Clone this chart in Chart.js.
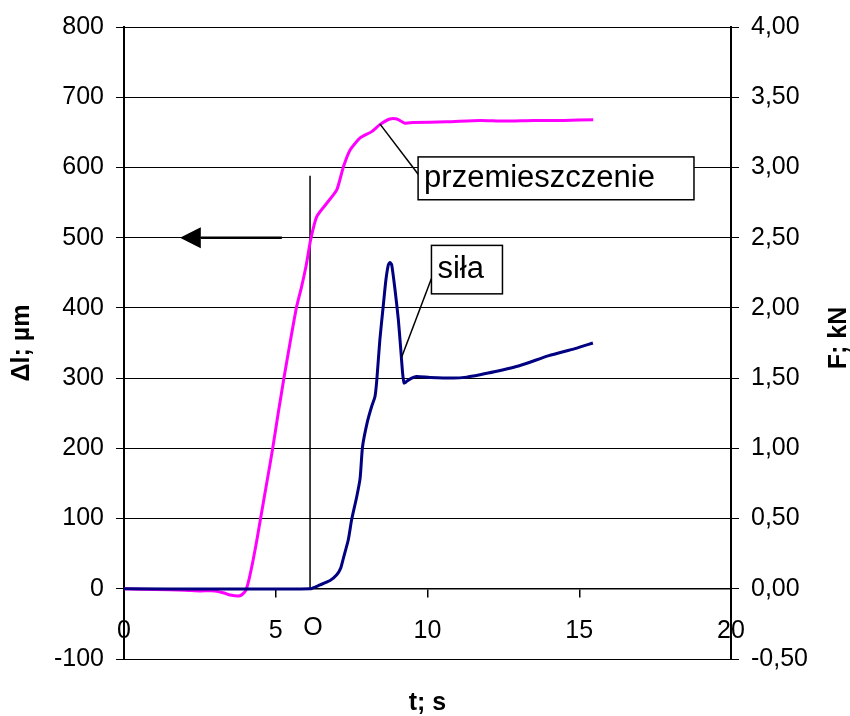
<!DOCTYPE html>
<html>
<head>
<meta charset="utf-8">
<script src="https://cdn.jsdelivr.net/npm/chart.js@4/dist/chart.umd.min.js"></script>
<style>
  html, body { margin: 0; padding: 0; background: #fff; }
  #wrap { width: 850px; height: 716px; }
</style>
</head>
<body>
<div id="wrap"><canvas id="wykres"></canvas></div>
<script>
// przemieszczenie (Δl, µm) w funkcji czasu
const tPrzem = [0, 1, 2, 2.5, 3.0, 3.3, 3.5, 3.82, 3.99, 4.10, 4.25, 4.38, 4.5, 4.7, 4.9, 5.08, 5.27, 5.47, 5.68, 5.85, 6.0, 6.15, 6.35, 6.68, 7.01, 7.23, 7.45, 7.78, 8.16, 8.43, 8.76, 8.99, 9.26, 9.52, 10.63, 11.73, 12.5, 13.5, 14.5, 15.46];
const przem = [0, -1, -2, -3, -3, -6, -9, -10, -4, 10, 40, 70, 100, 150, 200, 250, 300, 350, 400, 430, 460, 497, 530, 549, 568, 601, 625, 642, 651, 661, 669, 669, 663, 664, 665, 667, 666, 667, 667, 668];

// siła (F, kN) w funkcji czasu
const tSila = [0, 6.13, 6.46, 6.79, 7.01, 7.14, 7.23, 7.39, 7.50, 7.67, 7.78, 7.86, 8.02, 8.16, 8.27, 8.33, 8.43, 8.54, 8.63, 8.71, 8.76, 8.82, 8.93, 9.04, 9.12, 9.18, 9.23, 9.31, 9.48, 9.64, 10.08, 10.85, 11.29, 11.73, 12.2, 13.05, 14.0, 14.86, 15.45];
const sila = [0, 0, 0.028, 0.059, 0.10, 0.147, 0.219, 0.349, 0.491, 0.657, 0.788, 1.013, 1.19, 1.298, 1.369, 1.488, 1.773, 2.010, 2.200, 2.307, 2.323, 2.307, 2.129, 1.915, 1.702, 1.536, 1.465, 1.476, 1.500, 1.512, 1.505, 1.500, 1.507, 1.524, 1.545, 1.59, 1.66, 1.71, 1.75];

// osie
const osX = [0, 20, 5];
const osY = [-100, 800, 100];
const osY2 = [-0.5, 4, 0.5];

// adnotacje (t w s, Δl w µm)
const liniaO = [6.13, 0, 588];          // t, od, do
const etykietaO = [6.23, 'O'];
const strzalka = [5.2, 2.53, 1.845, 500]; // koniec, podstawa grota, grot, poziom
const ramkaPrzem = ['przemieszczenie', 9.69, 18.78, 615, 554, 8.43, 662, 9.70, 590];
const ramkaSila = ['siła', 10.13, 12.47, 489, 420, 9.15, 330, 10.13, 442];

const FONT = '"Liberation Sans", Arial, sans-serif';
Chart.defaults.font.family = FONT;
Chart.defaults.color = '#000';

const adnotacje = {
  id: 'adnotacje',
  beforeDatasetsDraw(chart) {
    const { ctx, scales: { x, y } } = chart;
    ctx.save();
    ctx.strokeStyle = '#000';
    ctx.lineWidth = 1.5;
    ctx.beginPath();
    ctx.moveTo(x.getPixelForValue(liniaO[0]), y.getPixelForValue(liniaO[1]));
    ctx.lineTo(x.getPixelForValue(liniaO[0]), y.getPixelForValue(liniaO[2]));
    ctx.stroke();

    // strzałka w lewo
    const ys = y.getPixelForValue(strzalka[3]);
    const xb = x.getPixelForValue(strzalka[1]);
    ctx.lineWidth = 2.5;
    ctx.beginPath();
    ctx.moveTo(x.getPixelForValue(strzalka[0]), ys);
    ctx.lineTo(xb, ys);
    ctx.stroke();
    ctx.fillStyle = '#000';
    ctx.beginPath();
    ctx.moveTo(x.getPixelForValue(strzalka[2]), ys);
    ctx.lineTo(xb, ys - 10.5);
    ctx.lineTo(xb, ys + 10.5);
    ctx.closePath();
    ctx.fill();
    ctx.restore();
  },
  afterDraw(chart) {
    const { ctx, scales: { x, y } } = chart;
    ctx.save();

    const ramka = (r) => {
      const [tekst, t1, t2, v1, v2, lx1, ly1, lx2, ly2] = r;
      ctx.strokeStyle = '#000';
      ctx.lineWidth = 1.5;
      ctx.beginPath();
      ctx.moveTo(x.getPixelForValue(lx1), y.getPixelForValue(ly1));
      ctx.lineTo(x.getPixelForValue(lx2), y.getPixelForValue(ly2));
      ctx.stroke();
      const xa = x.getPixelForValue(t1), xb = x.getPixelForValue(t2);
      const ya = y.getPixelForValue(v1), yb = y.getPixelForValue(v2);
      ctx.fillStyle = '#fff';
      ctx.fillRect(xa, ya, xb - xa, yb - ya);
      ctx.strokeRect(xa, ya, xb - xa, yb - ya);
      ctx.fillStyle = '#000';
      ctx.font = '31px ' + FONT;
      ctx.textAlign = 'left';
      ctx.textBaseline = 'middle';
      ctx.fillText(tekst, xa + 6, (ya + yb) / 2);
    };
    ramka(ramkaPrzem);
    ramka(ramkaSila);

    // etykieta O
    ctx.font = '25px ' + FONT;
    ctx.textAlign = 'center';
    ctx.textBaseline = 'middle';
    ctx.fillStyle = '#000';
    ctx.fillText(etykietaO[1], x.getPixelForValue(etykietaO[0]), 628);

    // tytuły osi
    ctx.font = 'bold 25px ' + FONT;
    ctx.fillText('t; s', (chart.chartArea.left + chart.chartArea.right) / 2, 703);
    ctx.translate(839, 338);
    ctx.rotate(-Math.PI / 2);
    ctx.fillText('F; kN', 0, 0);
    ctx.restore();
  }
};

new Chart(document.getElementById('wykres'), {
  type: 'line',
  data: {
    datasets: [
      {
        label: 'siła',
        data: tSila.map((t, i) => ({ x: t, y: sila[i] })),
        yAxisID: 'y2',
        borderColor: '#000080',
        borderWidth: 3,
        pointRadius: 0,
        tension: 0.2
      },
      {
        label: 'przemieszczenie',
        data: tPrzem.map((t, i) => ({ x: t, y: przem[i] })),
        yAxisID: 'y',
        borderColor: '#FF00FF',
        borderWidth: 3,
        pointRadius: 0,
        tension: 0.2
      }
    ]
  },
  options: {
    responsive: true,
    maintainAspectRatio: false,
    animation: false,
    layout: { padding: { top: 27, bottom: 57, left: 0, right: 0 } },
    plugins: { legend: { display: false }, tooltip: { enabled: false } },
    scales: {
      x: {
        type: 'linear',
        position: { y: 0 },
        min: osX[0], max: osX[1],
        ticks: { stepSize: osX[2], font: { size: 25 }, padding: 19, maxRotation: 0 },
        grid: { drawOnChartArea: false, tickLength: 8, color: '#000', lineWidth: 1.5 },
        border: { color: '#000', width: 1.5 }
      },
      y: {
        position: 'left',
        min: osY[0], max: osY[1],
        ticks: { stepSize: osY[2], font: { size: 25 }, padding: 12 },
        grid: { color: '#000', lineWidth: 1, tickLength: 8 },
        border: { color: '#000', width: 2 },
        title: { display: true, text: 'Δl; µm', font: { size: 25, weight: 'bold' }, padding: { top: 7, bottom: 0 } },
        afterFit(s) { s.width = 124; }
      },
      y2: {
        position: 'right',
        min: osY2[0], max: osY2[1],
        ticks: { stepSize: osY2[2], font: { size: 25 }, padding: 12,
          callback: v => v.toFixed(2).replace('.', ',') },
        grid: { drawOnChartArea: false, color: '#000', tickLength: 8 },
        border: { color: '#000', width: 2 },
        afterFit(s) { s.width = 119; }
      }
    }
  },
  plugins: [adnotacje]
});
</script>
</body>
</html>
